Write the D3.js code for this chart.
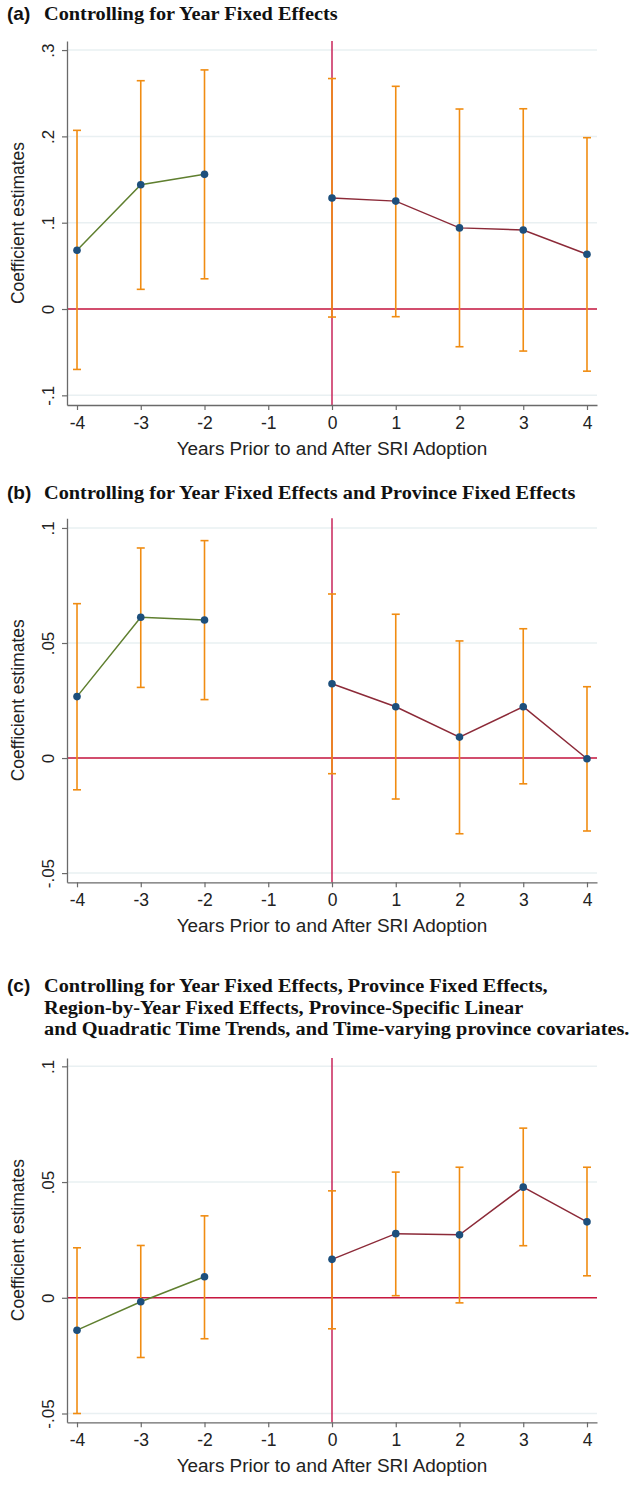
<!DOCTYPE html>
<html><head><meta charset="utf-8">
<script src="https://cdn.jsdelivr.net/npm/d3@7"></script>
<style>body{margin:0;background:#fff}svg{display:block}</style>
</head><body>
<script>
// ---- data ----
const years = [-4, -3, -2, 0, 1, 2, 3, 4];
const xTicks = [-4, -3, -2, -1, 0, 1, 2, 3, 4];

const estA  = [0.068, 0.144, 0.156, 0.1286, 0.125, 0.094, 0.0915, 0.0634];
const upA   = [0.207, 0.2645, 0.277, 0.267, 0.258, 0.2317, 0.232, 0.1985];
const lowA  = [-0.070, 0.0228, 0.035, -0.0093, -0.0089, -0.0437, -0.0487, -0.072];
const ticksA = [-0.1, 0, 0.1, 0.2, 0.3];
const tickLabA = ["-.1", "0", ".1", ".2", ".3"];

const estB  = [0.0267, 0.0612, 0.060, 0.0323, 0.0223, 0.0091, 0.0223, -0.0003];
const upB   = [0.0671, 0.0913, 0.0945, 0.0713, 0.0625, 0.0509, 0.0562, 0.031];
const lowB  = [-0.0138, 0.0307, 0.0254, -0.0068, -0.0178, -0.0329, -0.0112, -0.0317];
const ticksB = [-0.05, 0, 0.05, 0.1];
const tickLabB = ["-.05", "0", ".05", ".1"];

const estC  = [-0.014, -0.0017, 0.0091, 0.0166, 0.0277, 0.0272, 0.0478, 0.0328];
const upC   = [0.0216, 0.0226, 0.0354, 0.0462, 0.0543, 0.0564, 0.0733, 0.0564];
const lowC  = [-0.050, -0.0258, -0.0177, -0.0134, 0.0009, -0.0022, 0.0225, 0.0095];
const ticksC = [-0.05, 0, 0.05, 0.1];
const tickLabC = ["-.05", "0", ".05", ".1"];

const titleA = ["Controlling for Year Fixed Effects"];
const titleB = ["Controlling for Year Fixed Effects and Province Fixed Effects"];
const titleC = ["Controlling for Year Fixed Effects, Province Fixed Effects,",
                "Region-by-Year Fixed Effects, Province-Specific Linear",
                "and Quadratic Time Trends, and Time-varying province covariates."];
const xTitle = "Years Prior to and After SRI Adoption";
const yTitle = "Coefficient estimates";

// ---- layout ----
const W = 634, H = 1486;
const svg = d3.select("body").append("svg").attr("width", W).attr("height", H);

const C = {
  grid: "#e9f0f2", axis: "#6a6a6a", zero: "#c8173f", vline: "#c9245a",
  pre: "#5f7f2f", post: "#8c2a38", ci: "#f08c12", dot: "#1d4f7c"
};
const SANS = "Liberation Sans, Arial, sans-serif";
const SERIF = "Liberation Serif, Times New Roman, serif";

const panels = [
  {label:"(a)", title:titleA, titleY:19.5, top:41, bottom:405, dom:[-0.1112, 0.3105], est:estA, up:upA, low:lowA, ticks:ticksA, labs:tickLabA},
  {label:"(b)", title:titleB, titleY:499, top:518.3, bottom:882.3, dom:[-0.0540, 0.1042], est:estB, up:upB, low:lowB, ticks:ticksB, labs:tickLabB},
  {label:"(c)", title:titleC, titleY:992, top:1058, bottom:1422.3, dom:[-0.0538, 0.1036], est:estC, up:upC, low:lowC, ticks:ticksC, labs:tickLabC}
];

const x = d3.scaleLinear().domain([-4.157, 4.157]).range([67, 597]);

// calibrate horizontal stretch of titles
function measure(txt, fam, size, weight) {
  const t = svg.append("text").attr("font-family", fam).attr("font-weight", weight)
    .attr("font-size", size).text(txt);
  const w = t.node().getComputedTextLength();
  t.remove();
  return w;
}
const sx = 294 / measure(titleA[0], SERIF, 19, "bold");
const sxX = 311 / measure(xTitle, SANS, 17.5, "normal");

panels.forEach(p => {
  const g = svg.append("g");
  const y = d3.scaleLinear().domain(p.dom).range([p.bottom, p.top]);

  // title
  g.append("text").attr("x", 7).attr("y", p.titleY)
    .attr("font-family", SANS).attr("font-weight", "bold")
    .attr("font-size", 19).attr("fill", "#111").text(p.label);
  p.title.forEach((t, i) => {
    g.append("text").attr("transform", `translate(44,${p.titleY + i * 21.5}) scale(${sx},1)`)
      .attr("font-family", SERIF).attr("font-weight", "bold")
      .attr("font-size", 19).attr("fill", "#111").text(t);
  });

  // gridlines
  g.selectAll(".grid").data(p.ticks).enter().append("line")
    .attr("x1", 67).attr("x2", 597)
    .attr("y1", d => y(d)).attr("y2", d => y(d))
    .attr("stroke", C.grid).attr("stroke-width", 1.5);

  // zero line & vertical line
  g.append("line").attr("x1", 67).attr("x2", 597).attr("y1", y(0)).attr("y2", y(0))
    .attr("stroke", C.zero).attr("stroke-width", 1.5);
  g.append("line").attr("x1", x(0)).attr("x2", x(0)).attr("y1", p.top).attr("y2", p.bottom)
    .attr("stroke", C.vline).attr("stroke-width", 1.5);

  // y axis
  const ya = d3.axisLeft(y).tickValues(p.ticks).tickFormat((d, i) => p.labs[i]).tickSize(5).tickSizeOuter(0);
  const yg = g.append("g").attr("transform", `translate(67,0)`).call(ya);
  yg.select(".domain").attr("stroke", C.axis).attr("stroke-width", 1.3);
  yg.selectAll(".tick line").attr("stroke", C.axis).attr("stroke-width", 1.2);
  yg.selectAll(".tick text").attr("font-family", SANS).attr("font-size", 17)
    .attr("fill", "#222").attr("text-anchor", "middle").attr("x", 0).attr("dy", 0)
    .attr("transform", "translate(-13,0) rotate(-90)").attr("y", 0);

  // x axis
  const xa = d3.axisBottom(x).tickValues(xTicks).tickFormat(d => String(d)).tickSize(5).tickSizeOuter(0);
  const xg = g.append("g").attr("transform", `translate(0,${p.bottom})`).call(xa);
  xg.select(".domain").attr("stroke", C.axis).attr("stroke-width", 1.3);
  xg.selectAll(".tick line").attr("stroke", C.axis).attr("stroke-width", 1.2);
  xg.selectAll(".tick text").attr("font-family", SANS).attr("font-size", 17.5)
    .attr("fill", "#222").attr("y", 8).attr("dy", "0.9em");

  // axis titles
  g.append("text").attr("transform", `translate(332,${p.bottom + 50}) scale(${sxX},1)`).attr("text-anchor", "middle")
    .attr("font-family", SANS).attr("font-size", 17.5).attr("fill", "#222").text(xTitle);
  g.append("text").attr("transform", `translate(24,${(p.top + p.bottom) / 2}) rotate(-90)`).attr("text-anchor", "middle")
    .attr("font-family", SANS).attr("font-size", 17.5).attr("fill", "#222").text(yTitle);

  const rows = years.map((yr, i) => ({yr, est: p.est[i], up: p.up[i], low: p.low[i]}));

  // error bars
  rows.forEach(r => {
    g.append("line").attr("x1", x(r.yr)).attr("x2", x(r.yr)).attr("y1", y(r.low)).attr("y2", y(r.up))
      .attr("stroke", C.ci).attr("stroke-width", 1.6);
    [r.low, r.up].forEach(v => g.append("line").attr("x1", x(r.yr) - 4).attr("x2", x(r.yr) + 4)
      .attr("y1", y(v)).attr("y2", y(v)).attr("stroke", C.ci).attr("stroke-width", 1.6));
  });

  // lines
  const line = d3.line().x(d => x(d.yr)).y(d => y(d.est));
  g.append("path").datum(rows.filter(r => r.yr < 0)).attr("d", line)
    .attr("fill", "none").attr("stroke", C.pre).attr("stroke-width", 1.5);
  g.append("path").datum(rows.filter(r => r.yr >= 0)).attr("d", line)
    .attr("fill", "none").attr("stroke", C.post).attr("stroke-width", 1.5);

  // dots
  g.selectAll(".dot").data(rows).enter().append("circle")
    .attr("cx", d => x(d.yr)).attr("cy", d => y(d.est)).attr("r", 3.8).attr("fill", C.dot);
});
</script>
</body></html>
